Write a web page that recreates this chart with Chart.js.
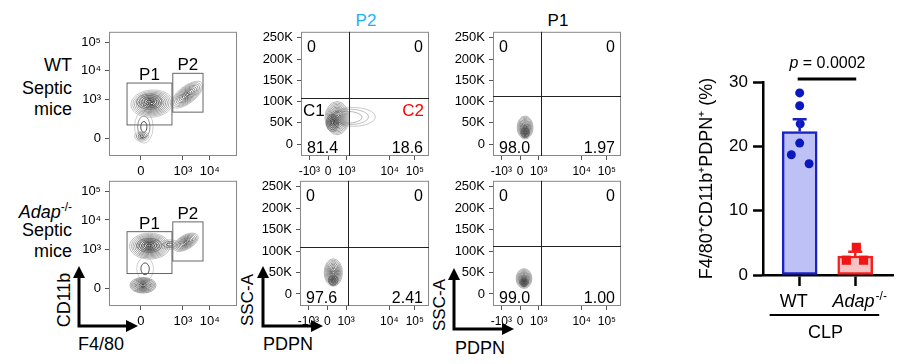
<!DOCTYPE html>
<html lang="en">
<head>
<meta charset="UTF-8">
<title>F4/80+CD11b+PDPN+ cells in septic mice</title>
<script src="https://cdn.jsdelivr.net/npm/chart.js"></script>
<style>
  body { margin: 0; width: 899px; height: 364px; background: #fff; position: relative; overflow: hidden;
         font-family: 'Liberation Sans', Arial, sans-serif; color: #000; }
  canvas { position: absolute; }
  .lbl { position: absolute; font-size: 18px; line-height: 18px; white-space: nowrap; }
  .row { left: 0; width: 72px; text-align: right; }
  .rot { transform: translate(-50%, -50%) rotate(-90deg); }
  .ctr { transform: translateX(-50%); }
  .sup { font-size: 12px; vertical-align: 7px; }
  svg { position: absolute; left: 0; top: 0; }
</style>
</head>
<body>
<div class="lbl row" style="top:56px">WT</div>
<div class="lbl row" style="top:79px">Septic</div>
<div class="lbl row" style="top:100px">mice</div>
<div class="lbl row" style="top:198px"><i>Adap</i><span class="sup">-/-</span></div>
<div class="lbl row" style="top:221px">Septic</div>
<div class="lbl row" style="top:242px">mice</div>

<div class="lbl ctr" style="left:366px;top:12px;font-size:17px;color:#1eb0f2">P2</div>
<div class="lbl ctr" style="left:558px;top:12px;font-size:17px">P1</div>

<div class="lbl rot" style="left:64px;top:300px">CD11b</div>
<div class="lbl ctr" style="left:101px;top:335px">F4/80</div>
<div class="lbl rot" style="left:248px;top:300px;font-size:17px">SSC-A</div>
<div class="lbl ctr" style="left:288px;top:335px">PDPN</div>
<div class="lbl rot" style="left:440px;top:305px;font-size:17px">SSC-A</div>
<div class="lbl ctr" style="left:480px;top:339px">PDPN</div>

<svg width="899" height="364">
  <g stroke="#000" stroke-width="3" fill="none">
    <polyline points="79,276 79,326 127,326"/>
    <polyline points="263,276 263,326 312,326"/>
    <polyline points="454,278 454,329 503,329"/>
  </g>
  <g fill="#000">
    <polygon points="79,266 73,278 85,278"/><polygon points="138,326 126,320 126,332"/>
    <polygon points="263,266 257,278 269,278"/><polygon points="323,326 311,320 311,332"/>
    <polygon points="454,268 448,280 460,280"/><polygon points="514,329 502,323 502,335"/>
  </g>
</svg>

<canvas id="wtGate"></canvas>
<canvas id="wtP2"></canvas>
<canvas id="wtP1"></canvas>
<canvas id="adapGate"></canvas>
<canvas id="adapP2"></canvas>
<canvas id="adapP1"></canvas>
<canvas id="barChart"></canvas>

<script>
// ---- flow axes (biexponential, in display units) ----
const f480Ticks = [0, 1, 1.64];
const f480Labels = ['0', '10³', '10⁴'];
const cd11bTicks = [0, 1, 1.75, 2.475];
const cd11bLabels = ['0', '10³', '10⁴', '10⁵'];
const pdpnTicks = [-0.85, 0, 0.85, 2.8, 3.95];
const pdpnLabels = ['-10³', '0', '10³', '10⁴', '10⁵'];
const sscTicks = [0, 50, 100, 150, 200, 250];
const sscLabels = ['0', '50K', '100K', '150K', '200K', '250K'];

// gates on CD11b vs F4/80: [x1, x2, y1, y2, name]
const wtGates = [[-0.33, 0.74, 0.35, 1.43, 'P1'], [0.76, 1.48, 0.68, 1.68, 'P2']];
const adapGates = [[-0.33, 0.74, 0.38, 1.45, 'P1'], [0.76, 1.48, 0.7, 1.7, 'P2']];

// quadrant gates [PDPN, SSC-A (K)] and percentages [UL, UR, LL, LR]
const wtP2Quad = [0.93, 109];
const wtP2Pct = ['0', '0', '81.4', '18.6'];
const wtP1Quad = [0.93, 113];
const wtP1Pct = ['0', '0', '98.0', '1.97'];
const adapP2Quad = [0.93, 109];
const adapP2Pct = ['0', '0', '97.6', '2.41'];
const adapP1Quad = [0.93, 113];
const adapP1Pct = ['0', '0', '99.0', '1.00'];

// contour populations: [cx, cy, rx, ry, tilt deg, rings, lightest grey]
const wtGateBlobs = [
  [0.07, 0.3, 0.22, 0.42, 0, 3, 195],
  [0.02, 0.06, 0.17, 0.13, 0, 4, 180],
  [0.26, 0.9, 0.5, 0.35, -5, 12, 185],
  [0.2, 0.95, 0.3, 0.2, 0, 5, 120],
  [1.1, 1.13, 0.45, 0.22, -38, 10, 180]
];
const adapGateBlobs = [
  [0.1, 0.5, 0.2, 0.3, 0, 2, 195],
  [0.05, 0.08, 0.31, 0.2, 0, 10, 150],
  [0.21, 1.08, 0.48, 0.33, 0, 12, 175],
  [0.2, 1.1, 0.3, 0.18, 0, 5, 110],
  [0.69, 1.12, 0.24, 0.12, 0, 3, 180],
  [1.07, 1.18, 0.33, 0.18, -30, 9, 170]
];
const wtP2Blobs = [
  [1.15, 64, 1.0, 22, 0, 1, 185],
  [1.0, 64, 0.85, 18, 0, 1, 175],
  [0.85, 63, 0.7, 14, 0, 1, 165],
  [0.41, 61, 0.55, 39, 0, 12, 170],
  [0.2, 50, 0.28, 20, 0, 5, 100]
];
const wtP1Blobs = [[0.23, 39, 0.36, 27, 0, 10, 165], [0.23, 27, 0.2, 12, 0, 5, 90]];
const adapP2Blobs = [[0.27, 50, 0.41, 32, 0, 10, 165], [0.27, 32, 0.22, 12, 0, 5, 90]];
const adapP1Blobs = [[0.18, 36, 0.36, 23, 0, 10, 165], [0.18, 27, 0.2, 10, 0, 5, 90]];

// ---- bar chart: F4/80+CD11b+PDPN+ (%) after CLP ----
const groups = ['WT', 'Adap'];
const barMeans = [22.3, 2.95];
const barSem = [1.9, 0.65];
const wtValues = [28.3, 26.3, 23.5, 20.5, 18.7, 17.3];
const wtJitter = [0, 0, 0.01, 0, -0.15, 0.17];
const adapValues = [4.3, 2.3, 2.3];
const adapJitter = [0.02, -0.16, 0.15];
const pText = '0.0002';
const yTicksBar = [0, 10, 20, 30];

Chart.defaults.font.family = "'Liberation Sans', Arial, sans-serif";
Chart.defaults.color = '#000';
Chart.defaults.animation = false;
Chart.defaults.plugins.legend.display = false;
Chart.defaults.plugins.tooltip.enabled = false;

function place(id, box, yW, xH, padT, padR) {
  const c = document.getElementById(id);
  c.width = box[2] - box[0] + yW + padR;
  c.height = box[3] - box[1] + padT + xH;
  c.style.left = (box[0] - yW) + 'px';
  c.style.top = (box[1] - padT) + 'px';
  return c;
}

function flowAxis(ticks, labels, range, size, fit) {
  return {
    type: 'linear', min: range[0], max: range[1], offset: false,
    afterBuildTicks: s => { s.ticks = ticks.map(v => ({ value: v })); },
    afterFit: fit,
    ticks: { callback: (v, i) => labels[i], font: { size }, padding: 4, autoSkip: false, maxRotation: 0 },
    grid: { drawOnChartArea: false, tickLength: 4, tickColor: '#555' },
    border: { display: false }
  };
}

function flowDecor(spec) {
  return {
    id: 'flowDecor',
    beforeDatasetsDraw(chart) {
      const { ctx, chartArea: a, scales: { x, y } } = chart;
      ctx.save();
      ctx.beginPath(); ctx.rect(a.left, a.top, a.width, a.height); ctx.clip();
      ctx.lineWidth = 0.8;
      spec.blobs.forEach(b => {
        const cx = x.getPixelForValue(b[0]), cy = y.getPixelForValue(b[1]);
        const rx = Math.abs(x.getPixelForValue(b[0] + b[2]) - cx);
        const ry = Math.abs(y.getPixelForValue(b[1] + b[3]) - cy);
        const n = b[5];
        for (let i = 0; i < n; i++) {
          const s = 1 - i / n;
          const g = Math.round(b[6] - (b[6] - 45) * (n > 1 ? i / (n - 1) : 0));
          ctx.strokeStyle = `rgb(${g},${g},${g})`;
          ctx.beginPath();
          ctx.ellipse(cx, cy, rx * s, ry * s, b[4] * Math.PI / 180, 0, Math.PI * 2);
          ctx.stroke();
        }
      });
      ctx.restore();
    },
    afterDraw(chart) {
      const { ctx, chartArea: a, scales: { x, y } } = chart;
      ctx.save();
      ctx.strokeStyle = '#888'; ctx.lineWidth = 1;
      ctx.strokeRect(a.left + 0.5, a.top + 0.5, a.width - 1, a.height - 1);
      if (spec.gates) {
        ctx.font = '17px "Liberation Sans", Arial, sans-serif';
        ctx.fillStyle = '#000'; ctx.textAlign = 'center'; ctx.textBaseline = 'alphabetic';
        spec.gates.forEach(g => {
          const x1 = x.getPixelForValue(g[0]), x2 = x.getPixelForValue(g[1]);
          const y1 = y.getPixelForValue(g[2]), y2 = y.getPixelForValue(g[3]);
          ctx.strokeStyle = '#666';
          ctx.strokeRect(x1, y2, x2 - x1, y1 - y2);
          ctx.fillText(g[4], (x1 + x2) / 2, y2 - 3);
        });
      }
      if (spec.quad) {
        const qx = Math.round(x.getPixelForValue(spec.quad[0])) + 0.5;
        const qy = Math.round(y.getPixelForValue(spec.quad[1])) + 0.5;
        ctx.strokeStyle = '#222';
        ctx.beginPath();
        ctx.moveTo(qx, a.top); ctx.lineTo(qx, a.bottom);
        ctx.moveTo(a.left, qy); ctx.lineTo(a.right, qy);
        ctx.stroke();
        ctx.font = '16px "Liberation Sans", Arial, sans-serif';
        ctx.fillStyle = '#000'; ctx.textBaseline = 'alphabetic';
        const p = spec.pct;
        ctx.textAlign = 'left';
        ctx.fillText(p[0], a.left + 6, a.top + 20);
        ctx.fillText(p[2], a.left + 6, a.bottom - 3);
        ctx.textAlign = 'right';
        ctx.fillText(p[1], a.right - 6, a.top + 20);
        ctx.fillText(p[3], a.right - 6, a.bottom - 3);
        if (spec.cLabels) {
          ctx.font = '17px "Liberation Sans", Arial, sans-serif';
          ctx.textAlign = 'left';
          ctx.fillText(spec.cLabels[0], a.left + 2, qy + 17);
          ctx.fillStyle = '#f00'; ctx.textAlign = 'right';
          ctx.fillText(spec.cLabels[1], a.right - 5, qy + 17);
        }
      }
      ctx.restore();
    }
  };
}

function flowChart(id, box, kind, spec) {
  const yW = 44, xH = 24, padT = 8, padR = 2;
  const canvas = place(id, box, yW, xH, padT, padR);
  const gate = kind === 'gate';
  const xAxis = gate ? flowAxis(f480Ticks, f480Labels, [-0.76, 2.29], 13, s => { s.height = xH; })
                     : flowAxis(pdpnTicks, pdpnLabels, [-1.23, 4.59], 12, s => { s.height = xH; });
  const yAxis = gate ? flowAxis(cd11bTicks, cd11bLabels, [-0.45, 2.75], 13, s => { s.width = yW; })
                     : flowAxis(sscTicks, sscLabels, [-28, 264], 13, s => { s.width = yW; });
  return new Chart(canvas, {
    type: 'scatter',
    data: { datasets: [{ data: spec.blobs.map(b => ({ x: b[0], y: b[1] })), pointRadius: 0 }] },
    options: {
      responsive: false,
      layout: { autoPadding: false, padding: { top: padT, right: padR, left: 0, bottom: 0 } },
      scales: { x: xAxis, y: yAxis }
    },
    plugins: [flowDecor(spec)]
  });
}

flowChart('wtGate', [109, 28, 237, 156], 'gate', { blobs: wtGateBlobs, gates: wtGates });
flowChart('wtP2', [301, 28, 429, 156], 'quad', { blobs: wtP2Blobs, quad: wtP2Quad, pct: wtP2Pct, cLabels: ['C1', 'C2'] });
flowChart('wtP1', [493, 28, 621, 156], 'quad', { blobs: wtP1Blobs, quad: wtP1Quad, pct: wtP1Pct });
flowChart('adapGate', [109, 177, 237, 306], 'gate', { blobs: adapGateBlobs, gates: adapGates });
flowChart('adapP2', [300, 177, 429, 306], 'quad', { blobs: adapP2Blobs, quad: adapP2Quad, pct: adapP2Pct });
flowChart('adapP1', [493, 177, 621, 306], 'quad', { blobs: adapP1Blobs, quad: adapP1Quad, pct: adapP1Pct });

// ---- bar chart ----
const barFills = ['#bec1f6', '#f9c2c2'];
const barBorders = ['#1a22c4', '#f52020'];

const barDecor = {
  id: 'barDecor',
  afterDatasetsDraw(chart) {
    const { ctx, chartArea: a, scales: { x, y } } = chart;
    ctx.save();
    ctx.lineWidth = 2.5;
    barMeans.forEach((m, i) => {
      const px = x.getPixelForValue(i);
      const y0 = y.getPixelForValue(m), y1 = y.getPixelForValue(m + barSem[i]);
      ctx.strokeStyle = barBorders[i];
      ctx.beginPath();
      ctx.moveTo(px, y0); ctx.lineTo(px, y1);
      ctx.moveTo(px - 7, y1); ctx.lineTo(px + 7, y1);
      ctx.stroke();
    });
    const x0 = x.getPixelForValue(0), x1 = x.getPixelForValue(1);
    // significance bar
    ctx.strokeStyle = '#000'; ctx.lineWidth = 3;
    ctx.beginPath(); ctx.moveTo(x0 - 2, a.top - 3); ctx.lineTo(x1 + 1, a.top - 3); ctx.stroke();
    ctx.fillStyle = '#000'; ctx.textBaseline = 'alphabetic'; ctx.textAlign = 'left';
    const fItal = 'italic 16px "Liberation Sans", Arial, sans-serif';
    const fReg = '16px "Liberation Sans", Arial, sans-serif';
    ctx.font = fItal; const wp = ctx.measureText('p').width;
    ctx.font = fReg; const rest = ' = ' + pText; const wr = ctx.measureText(rest).width;
    let sx = (x0 + x1) / 2 - (wp + wr) / 2;
    ctx.font = fItal; ctx.fillText('p', sx, a.top - 14);
    ctx.font = fReg; ctx.fillText(rest, sx + wp, a.top - 14);
    // group labels
    const by = a.bottom + 32;
    ctx.font = '18px "Liberation Sans", Arial, sans-serif'; ctx.textAlign = 'center';
    ctx.fillText(groups[0], x0 - 6, by);
    ctx.font = 'italic 18px "Liberation Sans", Arial, sans-serif';
    const wa = ctx.measureText(groups[1]).width;
    ctx.font = '12px "Liberation Sans", Arial, sans-serif';
    const ws = ctx.measureText('-/-').width;
    const ax = x1 + 4 - (wa + ws) / 2;
    ctx.textAlign = 'left';
    ctx.font = 'italic 18px "Liberation Sans", Arial, sans-serif';
    ctx.fillText(groups[1], ax, by);
    ctx.font = '12px "Liberation Sans", Arial, sans-serif';
    ctx.fillText('-/-', ax + wa + 1, by - 7);
    // CLP bracket
    ctx.lineWidth = 2;
    ctx.beginPath(); ctx.moveTo(x0 - 30, a.bottom + 40); ctx.lineTo(x1 + 24, a.bottom + 40); ctx.stroke();
    ctx.font = '18px "Liberation Sans", Arial, sans-serif'; ctx.textAlign = 'center';
    ctx.fillText('CLP', (x0 + x1) / 2 - 2, a.bottom + 63);
    ctx.restore();
  }
};

const barCanvas = place('barChart', [763, 82, 893, 275], 73, 75, 32, 6);
new Chart(barCanvas, {
  type: 'bar',
  data: {
    datasets: [
      { type: 'scatter', order: 1, data: wtValues.map((v, i) => ({ x: wtJitter[i], y: v })),
        pointRadius: 4.5, pointBackgroundColor: '#0a18c0', pointBorderWidth: 0 },
      { type: 'scatter', order: 1, data: adapValues.map((v, i) => ({ x: 1 + adapJitter[i], y: v })),
        pointStyle: 'rect', pointRadius: 6.5, pointBackgroundColor: '#f01414', pointBorderWidth: 0 },
      { type: 'bar', order: 2, data: barMeans.map((m, i) => ({ x: i, y: m })),
        barThickness: 35, backgroundColor: barFills, borderColor: barBorders, borderWidth: 2.5, borderSkipped: false }
    ]
  },
  options: {
    responsive: false,
    layout: { autoPadding: false, padding: { top: 32, right: 6, left: 0, bottom: 0 } },
    scales: {
      x: {
        type: 'linear', min: -0.66, max: 1.68, offset: false,
        afterBuildTicks: s => { s.ticks = groups.map((g, i) => ({ value: i })); },
        afterFit: s => { s.height = 75; },
        ticks: { callback: () => '', autoSkip: false },
        grid: { offset: false, drawOnChartArea: false, tickLength: 11, tickWidth: 2.5, tickColor: '#000' },
        border: { color: '#000', width: 2.5 }
      },
      y: {
        min: 0, max: 30,
        afterBuildTicks: s => { s.ticks = yTicksBar.map(v => ({ value: v })); },
        afterFit: s => { s.width = 73; },
        ticks: { font: { size: 17 }, padding: 5 },
        grid: { drawOnChartArea: false, tickLength: 10, tickWidth: 2.5, tickColor: '#000' },
        border: { color: '#000', width: 2.5 },
        title: { display: true, text: 'F4/80⁺CD11b⁺PDPN⁺ (%)', font: { size: 18 }, padding: { top: 6, bottom: 0 } }
      }
    }
  },
  plugins: [barDecor]
});
</script>
</body>
</html>
